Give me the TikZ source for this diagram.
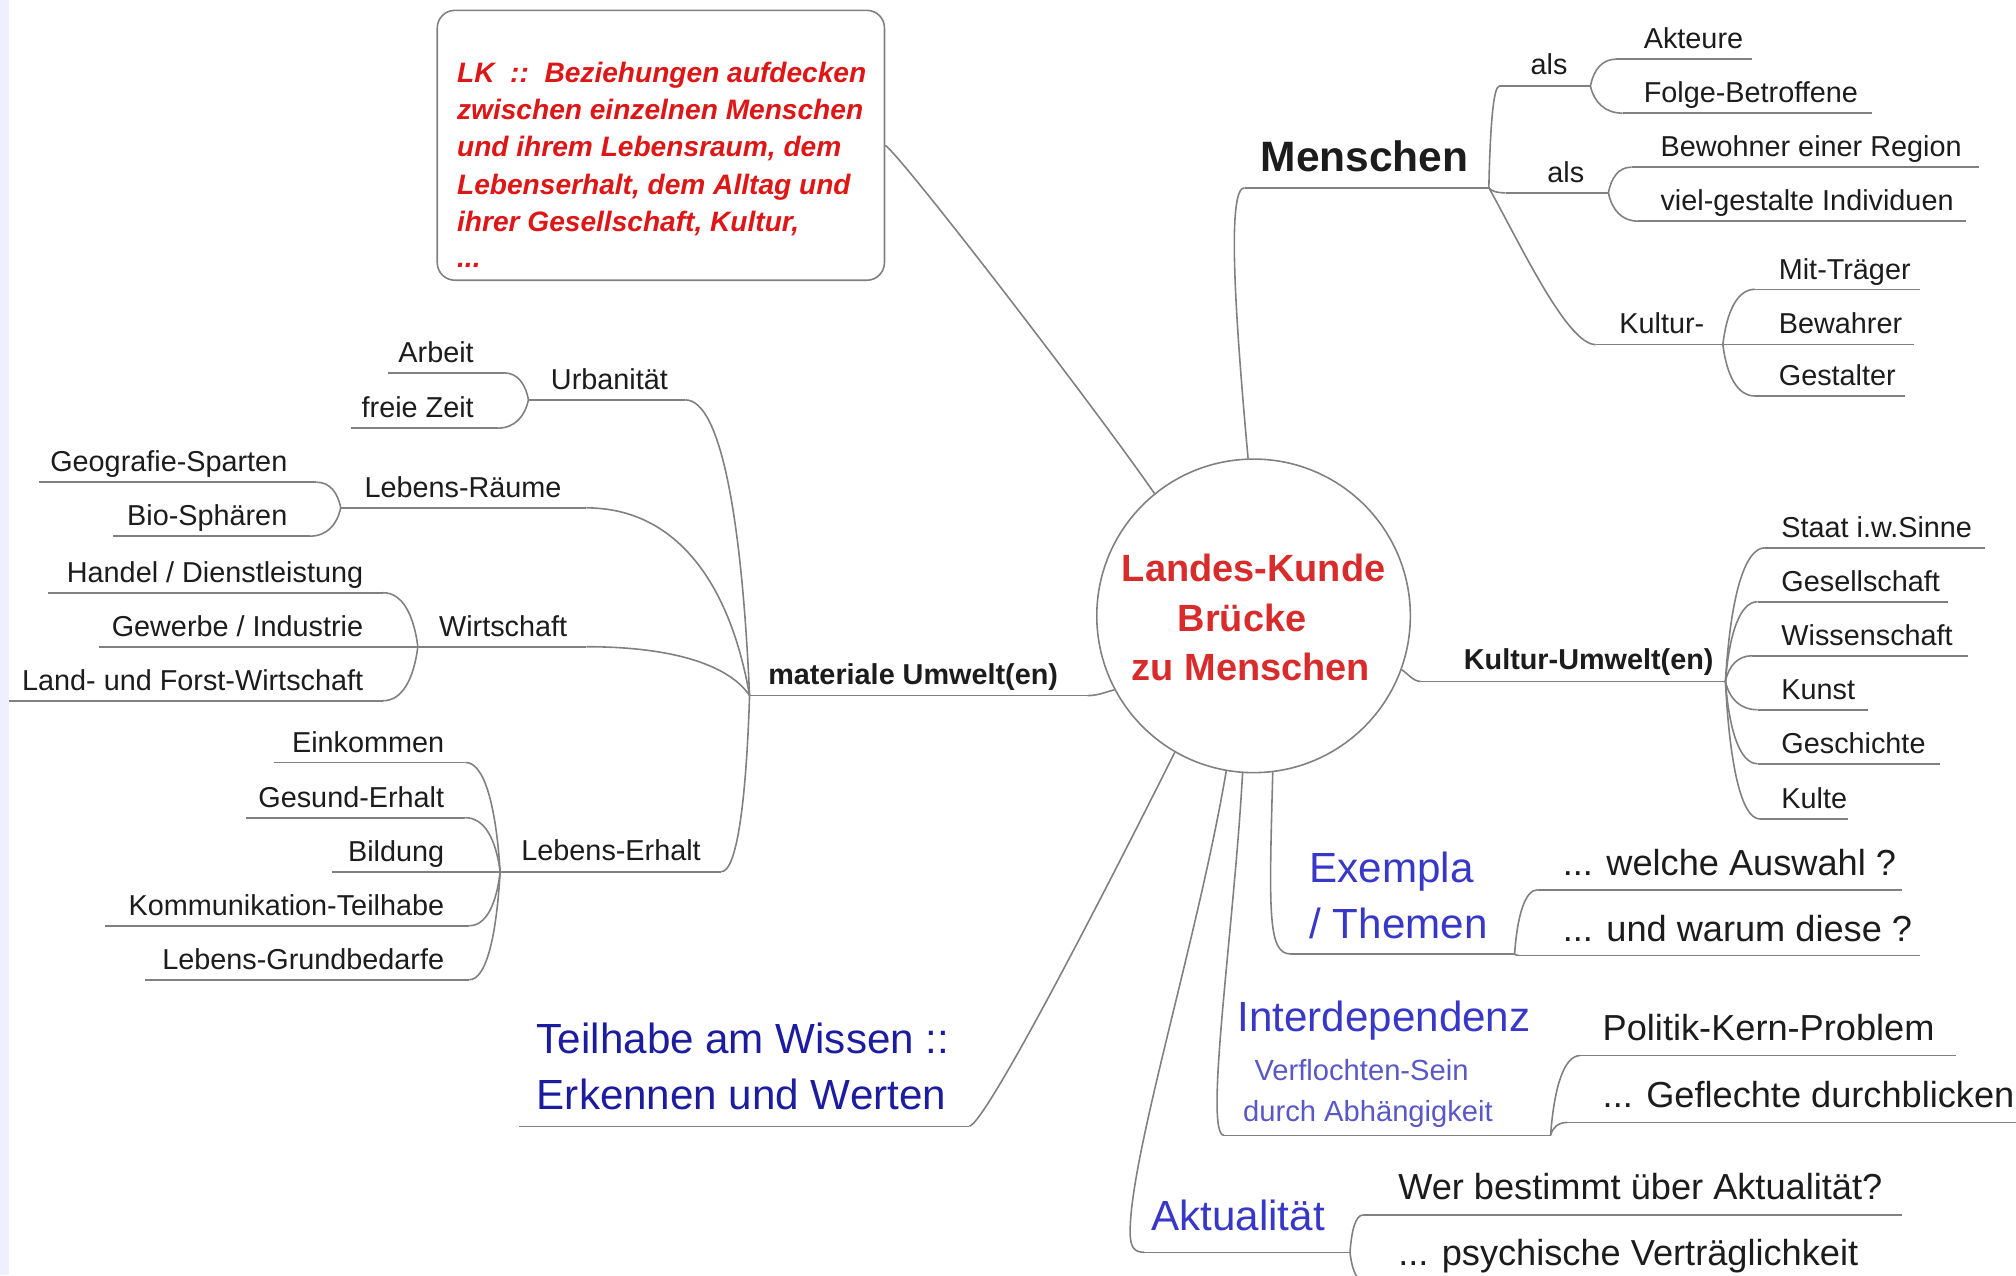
\documentclass[tikz,border=0pt]{standalone}
\usepackage{fontspec}
\setmainfont{Liberation Sans}
\usetikzlibrary{calc}
\definecolor{ln}{RGB}{128,128,128}
\definecolor{txt}{RGB}{28,28,28}
\definecolor{redA}{RGB}{216,44,44}
\definecolor{redB}{RGB}{222,22,22}
\definecolor{blueA}{RGB}{56,56,200}
\definecolor{blueB}{RGB}{28,28,160}
\definecolor{blueC}{RGB}{88,88,200}
\definecolor{strip}{RGB}{238,240,252}
\newcommand\mmline[4]{\coordinate (#1a) at (#2,#4); \coordinate (#1b) at (#3,#4); \draw[conn] (#1a) -- (#1b);}
\tikzset{
  conn/.style={draw=ln, line width=0.45pt},
  mm/.style={to path={let \p1=(\tikztostart), \p2=(\tikztotarget) in
      .. controls ({\x1+0.12*(\x2-\x1)},{\y1+0.6*(\y2-\y1)}) and ({\x2-0.55*(\x2-\x1)},\y2) .. (\tikztotarget)}},
  sm/.style={inner sep=0pt, text=txt, font=\fontsize{8.2}{9.8}\selectfont},
  smb/.style={inner sep=0pt, text=txt, font=\fontsize{8.2}{9.8}\selectfont\bfseries},
  md/.style={inner sep=0pt, text=txt, font=\fontsize{10.3}{12.4}\selectfont},
  bigblue/.style={inner sep=0pt, text=blueA, font=\fontsize{12}{14}\selectfont},
  tiny/.style={inner sep=0pt, text=blueC, font=\fontsize{8.3}{10}\selectfont},
  boxtxt/.style={inner sep=0pt, text=redB, font=\fontsize{8}{9.6}\selectfont\bfseries\itshape},
  hub/.style={inner sep=0pt, text=redA, font=\fontsize{10.8}{13}\selectfont\bfseries},
}
\begin{document}
\begin{tikzpicture}[x=0.012857cm, y=-0.012857cm]
\useasboundingbox (0,0) rectangle (1568,992);
\clip (0,0) rectangle (1568,992);
\fill[white] (0,0) rectangle (1568,992);
\fill[strip] (0,0) rectangle (7,992);

% centre
\node[circle, draw=ln, line width=0.45pt, minimum size=3.137cm, inner sep=0pt] (circ) at (975,479) {};
\node[hub, anchor=base] (c1) at (975,452) {Landes-Kunde};
\node[hub, anchor=base] (c2) at (966,491) {Brücke};
\node[hub, anchor=base] (c3) at (973,529) {zu Menschen};

% text box
\node[draw=ln, line width=0.45pt, rounded corners=5pt, minimum width=4.474cm, minimum height=2.7cm, inner sep=0pt] (box) at (514,113) {};
\node[boxtxt, anchor=base west] (b1) at (355,64) {LK\ \ ::\ \ Beziehungen aufdecken};
\node[boxtxt, anchor=base west] (b2) at (355,93) {zwischen einzelnen Menschen};
\node[boxtxt, anchor=base west] (b3) at (355,122) {und ihrem Lebensraum, dem};
\node[boxtxt, anchor=base west] (b4) at (355,151) {Lebenserhalt, dem Alltag und};
\node[boxtxt, anchor=base west] (b5) at (355,180) {ihrer Gesellschaft, Kultur,};
\node[boxtxt, anchor=base west] (b6) at (355,208) {...};
\draw[conn] (box.east) .. controls +(14,10) and +(-45,-65) .. (circ.129);

% Menschen
\mmline{men}{968}{1158}{146}
\node[inner sep=0pt, text=txt, font=\fontsize{12.1}{14}\selectfont\bfseries, anchor=base west] (menT) at (980,133) {Menschen};
\draw[conn] (circ.92) .. controls +(-10,-110) and +(-14,0) .. (mena);
\mmline{alsA}{1166}{1237}{67}
\node[sm, anchor=base west] (alsAT) at (1190,58) {als};
\draw[conn] (menb) to[mm] (alsAa);
\mmline{akt}{1257}{1363}{46}
\node[sm, anchor=base west] (aktT) at (1278,38) {Akteure};
\mmline{fol}{1262}{1456}{88}
\node[sm, anchor=base west] (folT) at (1278,80) {Folge-Betroffene};
\draw[conn] (alsAb) to[mm] (akta);
\draw[conn] (alsAb) to[mm] (fola);
\mmline{alsB}{1171}{1251}{150}
\node[sm, anchor=base west] (alsBT) at (1203,142) {als};
\draw[conn] (menb) to[mm] (alsBa);
\mmline{bew}{1269}{1539}{130}
\node[sm, anchor=base west] (bewT) at (1291,122) {Bewohner einer Region};
\mmline{vie}{1274}{1529}{172}
\node[sm, anchor=base west] (vieT) at (1291,164) {viel-gestalte Individuen};
\draw[conn] (alsBb) to[mm] (bewa);
\draw[conn] (alsBb) to[mm] (viea);
\mmline{kul}{1241}{1340}{268}
\node[sm, anchor=base west] (kulT) at (1259,259) {Kultur-};
\draw[conn] (menb) .. controls +(25,45) and +(-22,0) .. (kula);
\mmline{mit}{1365}{1493}{225}
\node[sm, anchor=base west] (mitT) at (1383,217) {Mit-Träger};
\mmline{bwa}{1340}{1489}{268}
\node[sm, anchor=base west] (bwaT) at (1383,259) {Bewahrer};
\mmline{gst}{1365}{1482}{308}
\node[sm, anchor=base west] (gstT) at (1383,300) {Gestalter};
\draw[conn] (kulb) to[mm] (mita);
\draw[conn] (kulb) to[mm] (gsta);

% Kultur-Umwelt(en)
\mmline{ku}{1105}{1342}{530}
\node[smb, anchor=base west] (kuT) at (1138,521) {Kultur-Umwelt(en)};
\draw[conn] (circ.-20) .. controls +(5,3) and +(-6,0) .. (kua);
\mmline{sta}{1373}{1544}{426}
\node[sm, anchor=base west] (staT) at (1385,418) {Staat i.w.Sinne};
\mmline{gsl}{1367}{1515}{468}
\node[sm, anchor=base west] (gslT) at (1385,460) {Gesellschaft};
\mmline{wis}{1363}{1531}{510}
\node[sm, anchor=base west] (wisT) at (1385,502) {Wissenschaft};
\mmline{kun}{1367}{1453}{552}
\node[sm, anchor=base west] (kunT) at (1385,544) {Kunst};
\mmline{gsc}{1367}{1509}{594}
\node[sm, anchor=base west] (gscT) at (1385,586) {Geschichte};
\mmline{klt}{1369}{1437}{637}
\node[sm, anchor=base west] (kltT) at (1385,629) {Kulte};
\foreach \c in {sta,gsl,wis,kun,gsc,klt} {\draw[conn] (kub) to[mm] (\c a);}

% materiale Umwelt(en)
\mmline{mat}{583}{846}{541}
\node[smb, anchor=base west] (matT) at (597,532) {materiale Umwelt(en)};
\draw[conn] (circ.208) .. controls +(-8,2) and +(8,0) .. (matb);
\mmline{urb}{411}{533}{311}
\node[sm, anchor=base west] (urbT) at (428,303) {Urbanität};
\draw[conn] (mata) to[mm] (urbb);
\mmline{arb}{302}{392}{290}
\node[sm, anchor=base east] (arbT) at (369,282) {Arbeit};
\mmline{frz}{273}{387}{333}
\node[sm, anchor=base east] (frzT) at (369,325) {freie Zeit};
\draw[conn] (urba) to[mm] (arbb);
\draw[conn] (urba) to[mm] (frzb);
\mmline{lra}{265}{456}{395}
\node[sm, anchor=base west] (lraT) at (283,387) {Lebens-Räume};
\draw[conn] (mata) to[mm] (lrab);
\mmline{geo}{30}{246}{375}
\node[sm, anchor=base east] (geoT) at (224,367) {Geografie-Sparten};
\mmline{bio}{88}{241}{417}
\node[sm, anchor=base east] (bioT) at (224,409) {Bio-Sphären};
\draw[conn] (lraa) to[mm] (geob);
\draw[conn] (lraa) to[mm] (biob);
\mmline{wir}{325}{456}{503}
\node[sm, anchor=base west] (wirT) at (341,495) {Wirtschaft};
\draw[conn] (mata) to[mm] (wirb);
\mmline{han}{37}{298}{461}
\node[sm, anchor=base east] (hanT) at (283,453) {Handel / Dienstleistung};
\mmline{gew}{77}{325}{503}
\node[sm, anchor=base east] (gewT) at (283,495) {Gewerbe / Industrie};
\mmline{lan}{7}{298}{545}
\node[sm, anchor=base east] (lanT) at (283,537) {Land- und Forst-Wirtschaft};
\draw[conn] (wira) to[mm] (hanb);
\draw[conn] (wira) to[mm] (lanb);
\mmline{ler}{389}{561}{678}
\node[sm, anchor=base west] (lerT) at (405,669) {Lebens-Erhalt};
\draw[conn] (mata) to[mm] (lerb);
\mmline{ein}{213}{362}{593}
\node[sm, anchor=base east] (einT) at (346,585) {Einkommen};
\mmline{gsd}{191}{362}{636}
\node[sm, anchor=base east] (gsdT) at (346,628) {Gesund-Erhalt};
\mmline{bil}{258}{389}{678}
\node[sm, anchor=base east] (bilT) at (346,670) {Bildung};
\mmline{kom}{82}{365}{720}
\node[sm, anchor=base east] (komT) at (346,712) {Kommunikation-Teilhabe};
\mmline{lgb}{113}{365}{762}
\node[sm, anchor=base east] (lgbT) at (346,754) {Lebens-Grundbedarfe};
\foreach \c in {ein,gsd,kom,lgb} {\draw[conn] (lera) to[mm] (\c b);}

% Teilhabe
\mmline{teil}{404}{754}{876}
\node[bigblue, text=blueB, anchor=base west] (teT1) at (417,819) {Teilhabe am Wissen ::};
\node[bigblue, text=blueB, anchor=base west] (teT2) at (417,863) {Erkennen und Werten};
\draw[conn] (teilb) .. controls +(14,-4) and +(-50,100) .. (circ.-120);

% Exempla
\mmline{exe}{1004}{1178}{742}
\node[bigblue, anchor=base west] (exT1) at (1018,686) {Exempla};
\node[bigblue, anchor=base west] (exT2) at (1018,730) {/ Themen};
\draw[conn] (circ.-83) .. controls +(-3,110) and +(-18,0) .. (exea);
\mmline{wel}{1196}{1479}{692}
\node[md, anchor=base west] (welT) at (1215,681) {... welche Auswahl ?};
\mmline{war}{1181}{1493}{743}
\node[md, anchor=base west] (warT) at (1215,732) {... und warum diese ?};
\draw[conn] (exeb) to[mm] (wela);
\draw[conn] (exeb) to[mm] (wara);

% Interdependenz
\mmline{int}{952}{1206}{883}
\node[bigblue, anchor=base west] (inT) at (962,802) {Interdependenz};
\node[tiny, anchor=base] (inT2) at (1059,840) {Verflochten-Sein};
\node[tiny, anchor=base] (inT3) at (1064,872) {durch Abhängigkeit};
\draw[conn] (circ.-94) .. controls (960,720) and (936,883) .. (inta);
\mmline{pol}{1229}{1521}{821}
\node[md, anchor=base west] (polT) at (1246,809) {Politik-Kern-Problem};
\mmline{gef}{1219}{1575}{873}
\node[md, anchor=base west] (gefT) at (1246,861) {... Geflechte durchblicken};
\draw[conn] (intb) to[mm] (pola);
\draw[conn] (intb) to[mm] (gefa);

% Aktualitaet
\mmline{akl}{890}{1050}{974}
\node[bigblue, anchor=base west] (akT) at (895,957) {Aktualität};
\coordinate (akv) at (879,958);
\draw[conn] (circ.-100) .. controls +(-22,130) and +(0,-60) .. (akv) .. controls +(0,12) and +(-8,0) .. (akla);
\mmline{wer}{1060}{1479}{945}
\node[md, anchor=base west] (werT) at (1087,933) {Wer bestimmt über Aktualität?};
\mmline{psy}{1063}{1479}{998}
\node[md, anchor=base west] (psyT) at (1087,984) {... psychische Verträglichkeit};
\draw[conn] (aklb) to[mm] (wera);
\draw[conn] (aklb) to[mm] (psya);
\end{tikzpicture}
\end{document}
